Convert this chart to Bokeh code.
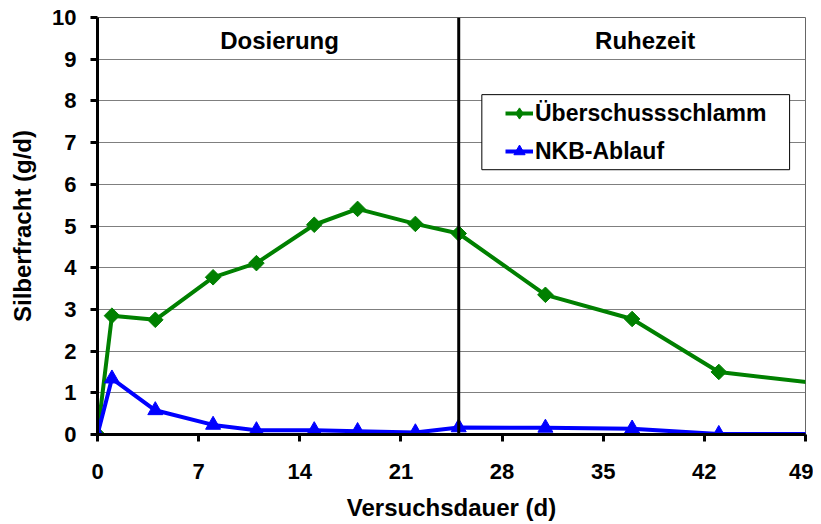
import math
from bokeh.plotting import figure
from bokeh.models import Range1d, FixedTicker, Legend, LegendItem, BoxAnnotation, Label, Span
from bokeh.embed import file_html
from bokeh.resources import INLINE

# ---- data ----
days = [0, 1, 4, 8, 11, 15, 18, 22, 25, 31, 37, 43, 50]
ueberschuss = [0, 2.85, 2.75, 3.77, 4.11, 5.03, 5.41, 5.05, 4.82, 3.35, 2.77, 1.50, 1.22]
nkb_ablauf = [0, 1.34, 0.58, 0.23, 0.10, 0.10, 0.08, 0.05, 0.17, 0.16, 0.14, 0.01, 0.01]
x_ticks = [0, 7, 14, 21, 28, 35, 42, 49]
y_ticks = list(range(0, 11))
phase_boundary = 25
phase_labels = ["Dosierung", "Ruhezeit"]
phase_label_x = [12.6, 37.9]
phase_label_y = 9.45
series_names = ["Überschussschlamm", "NKB-Ablauf"]

FONT = "Liberation Sans"
GREEN = "#008000"
BLUE = "#0000FF"

p = figure(width=813, height=524, output_backend="svg", toolbar_location=None,
           x_range=Range1d(0, 49), y_range=Range1d(0, 10),
           min_border_left=97, min_border_top=17, min_border_right=8, min_border_bottom=90)
p.background_fill_color = "white"
p.border_fill_color = "white"
p.outline_line_color = "#666666"
p.outline_line_width = 1

# grid
p.xgrid.grid_line_color = None
p.ygrid.grid_line_color = "#7f7f7f"
p.ygrid.grid_line_width = 1
p.ygrid.ticker = FixedTicker(ticks=y_ticks)

# axes
for ax in (p.xaxis[0], p.yaxis[0]):
    ax.axis_line_color = "black"
    ax.axis_line_width = 3
    ax.major_tick_line_color = "black"
    ax.major_tick_line_width = 3
    ax.major_tick_out = 7
    ax.major_tick_in = 0
    ax.minor_tick_line_color = None
    ax.major_label_text_font = FONT
    ax.major_label_text_font_style = "bold"
    ax.major_label_text_font_size = "22px"
    ax.major_label_text_color = "black"
    ax.axis_label_text_font = FONT
    ax.axis_label_text_font_style = "bold"
    ax.axis_label_text_font_size = "24px"
    ax.axis_label_text_color = "black"

p.xaxis.ticker = FixedTicker(ticks=x_ticks)
p.yaxis.ticker = FixedTicker(ticks=y_ticks)
p.xaxis.axis_label = "Versuchsdauer (d)"
p.yaxis.axis_label = "Silberfracht (g/d)"
p.xaxis.major_label_standoff = 22
p.yaxis.major_label_standoff = 14
p.xaxis.axis_label_standoff = 12
p.yaxis.axis_label_standoff = 13

# phase boundary
p.add_layout(Span(location=phase_boundary, dimension="height", line_color="black", line_width=3))

for txt, xx in zip(phase_labels, phase_label_x):
    p.add_layout(Label(x=xx, y=phase_label_y, text=txt, text_font=FONT, text_font_style="bold",
                       text_font_size="24px", text_align="center", text_baseline="middle",
                       text_color="black"))

# series
l1 = p.line(days, ueberschuss, line_color=GREEN, line_width=4)
s1 = p.scatter(days, ueberschuss, marker="square", angle=math.pi / 4, size=11,
               fill_color=GREEN, line_color=GREEN)
l2 = p.line(days, nkb_ablauf, line_color=BLUE, line_width=4)
s2 = p.scatter(days, nkb_ablauf, marker="triangle", size=15,
               fill_color=BLUE, line_color=BLUE)

# legend proxy marker (NaN position: never drawn in the plot, only used for the legend symbol)
s1_leg = p.scatter([float("nan")], [float("nan")], marker="diamond", size=12,
                   fill_color=GREEN, line_color=GREEN)

# legend box
p.add_layout(BoxAnnotation(left=26.6, right=47.9, top=8.15, bottom=6.35,
                           fill_color="white", fill_alpha=1.0,
                           line_color="black", line_width=1, line_alpha=1.0))

legend = Legend(items=[LegendItem(label=series_names[0], renderers=[l1, s1_leg]),
                       LegendItem(label=series_names[1], renderers=[l2, s2])],
                location=(408, 268), padding=0, margin=0, spacing=8,
                glyph_width=28, glyph_height=30, label_height=30, label_standoff=2,
                label_text_font=FONT, label_text_font_style="bold",
                label_text_font_size="23px", label_text_color="black",
                border_line_alpha=0, background_fill_alpha=0)
p.add_layout(legend)

open("out.html", "w").write(file_html(p, INLINE))
